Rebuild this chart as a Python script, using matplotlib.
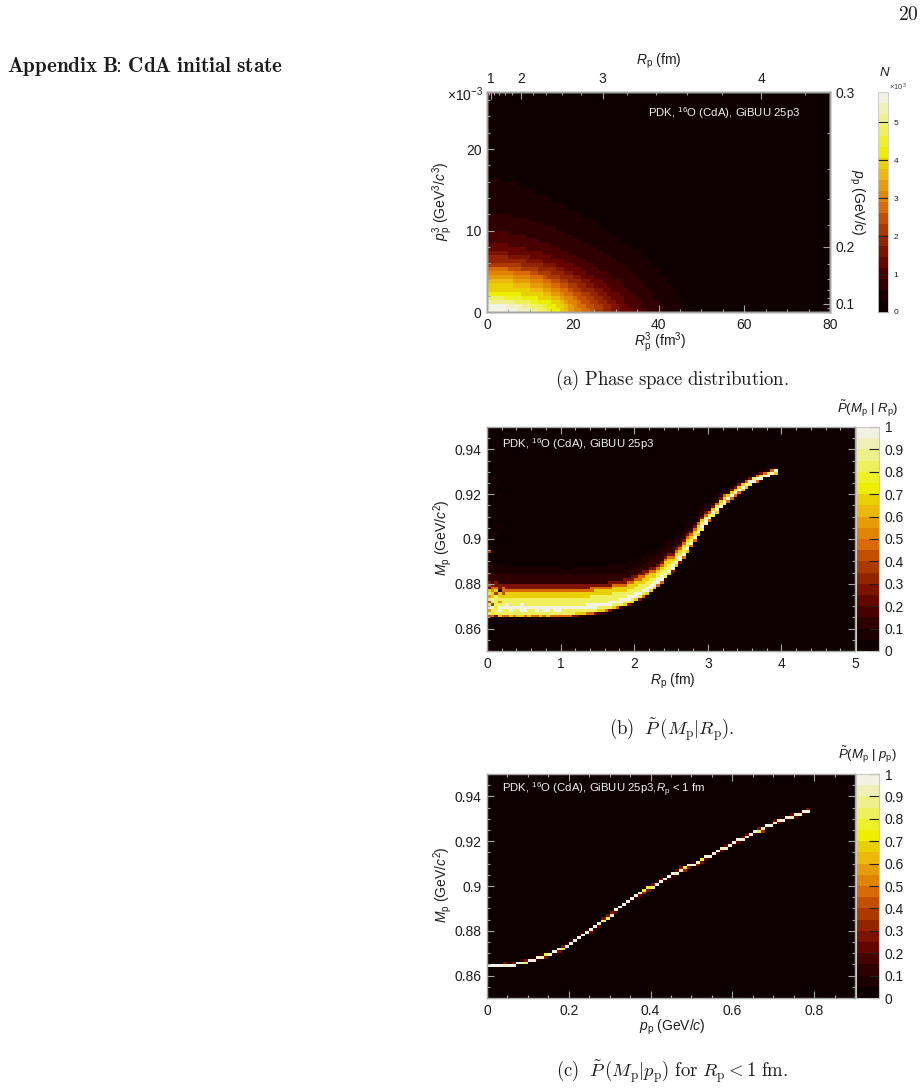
import numpy as np
import matplotlib
matplotlib.use("Agg")
import matplotlib.pyplot as plt
from matplotlib.colors import ListedColormap, BoundaryNorm

plt.rcParams.update({
    "font.family": "Liberation Sans",
    "mathtext.fontset": "custom",
    "mathtext.rm": "Liberation Sans",
    "mathtext.it": "Liberation Sans:italic",
    "mathtext.bf": "Liberation Sans:bold",
    "text.color": "#1c1c1c",
    "xtick.labelcolor": "#1c1c1c",
    "ytick.labelcolor": "#1c1c1c",
})

W, H = 924, 1089

PALETTE = ["#0f0000", "#1c0000", "#2f0000", "#480000", "#640500", "#7c1200",
           "#942400", "#ac3a00", "#c24e02", "#d86a08", "#e08404", "#e69c08",
           "#ecb80c", "#e8d004", "#eeee00", "#eef028", "#eef05c", "#eef08c",
           "#f0f0b8", "#f2f2e4"]

# (a) phase space: for each colour band, the R^3 reach of the band in every p^3 row
N_BAND_WIDTH = 0.29
N_BAND_EXTENTS = [
    [47, 46, 46, 45, 44, 44, 43, 42, 42, 40, 40, 38, 38, 36, 36, 34, 33, 31, 31, 29, 27, 26, 25, 22, 21, 19, 18, 15, 14, 11, 9, 7, 3],
    [41, 41, 40, 39, 39, 38, 37, 36, 35, 34, 33, 32, 30, 29, 27, 26, 24, 22, 20, 18, 16, 13, 10, 6],
    [37, 36, 36, 35, 34, 33, 32, 31, 29, 28, 26, 25, 23, 21, 19, 17, 15, 12, 9, 5],
    [34, 33, 32, 32, 31, 29, 28, 27, 25, 23, 22, 20, 18, 15, 13, 9, 5],
    [31, 31, 30, 29, 28, 27, 25, 24, 22, 20, 18, 16, 13, 10, 5],
    [29, 29, 28, 27, 26, 25, 23, 22, 20, 18, 16, 13, 9, 5],
    [27, 27, 26, 25, 24, 22, 21, 19, 17, 15, 12, 8],
    [25, 25, 24, 23, 22, 20, 19, 17, 14, 12, 8],
    [24, 23, 22, 21, 20, 19, 17, 15, 13, 10, 5],
    [22, 21, 21, 20, 18, 17, 15, 13, 10, 6],
    [20, 20, 19, 18, 17, 15, 13, 10, 6],
    [19, 19, 18, 17, 15, 13, 10, 6],
    [18, 18, 17, 15, 13, 10, 6],
    [17, 16, 15, 12, 8],
    [15, 14, 12, 8],
    [14, 13, 10, 4],
    [12, 10, 6],
    [10, 8],
    [7, 5],
]
R3_EDGES = np.arange(0, 81, 1.0)
P3_EDGES = np.arange(0, 27.5, 0.5)
R_TICKS = [1, 2, 3, 4]
R_MINOR = [0.8, 1.2, 1.4, 1.6, 1.8, 2.2, 2.4, 2.6, 2.8, 3.2, 3.4, 3.6, 3.8, 4.2]
P_TICKS = [0.1, 0.2, 0.3]
P_MINOR = [0.08, 0.12, 0.14, 0.16, 0.18, 0.22, 0.24, 0.26, 0.28]

# (b) ridge mass per 0.05 fm column
R_RIDGE = [
    .8690, .8688, .8692, .8686, .8688, .8690, .8686, .8688, .8686, .8686,
    .8686, .8684, .8686, .8686, .8684, .8686, .8684, .8686, .8686, .8686,
    .8688, .8688, .8688, .8690, .8692, .8692, .8694, .8696, .8698, .8700,
    .8702, .8704, .8706, .8710, .8714, .8718, .8722, .8726, .8732, .8738,
    .8748, .8755, .8763, .8773, .8785, .8797, .8810, .8823, .8842, .8858,
    .8875, .8893, .8912, .8935, .8958, .8982, .9007, .9030, .9052, .9075,
    .9095, .9113, .9130, .9148, .9165, .9180, .9193, .9206, .9218, .9229,
    .9240, .9250, .9259, .9267, .9274, .9281, .9287, .9293, .9300,
]
# (b) probability level of each band, widest last
P_LEVELS = [0.97, 0.80, 0.65, 0.45, 0.25, 0.12, 0.05]
# (b) reach above the ridge, one row per 0.25 fm
R_UPPER = [
    [.0012, .0055, .0080, .0095, .0115, .0160, .0195],
    [.0012, .0052, .0078, .0090, .0110, .0155, .0190],
    [.0012, .0052, .0078, .0090, .0110, .0155, .0185],
    [.0012, .0050, .0076, .0090, .0110, .0155, .0185],
    [.0012, .0048, .0072, .0088, .0108, .0150, .0180],
    [.0012, .0046, .0070, .0085, .0105, .0145, .0178],
    [.0012, .0045, .0068, .0082, .0100, .0138, .0172],
    [.0012, .0042, .0065, .0078, .0095, .0130, .0165],
    [.0012, .0040, .0062, .0078, .0095, .0125, .0160],
    [.0010, .0034, .0052, .0066, .0082, .0110, .0140],
    [.0008, .0027, .0042, .0054, .0066, .0090, .0120],
    [.0007, .0020, .0031, .0040, .0050, .0068, .0092],
    [.0006, .0015, .0023, .0029, .0036, .0048, .0065],
    [.0005, .0012, .0017, .0021, .0026, .0033, .0045],
    [.0005, .0010, .0014, .0018, .0021, .0027, .0035],
    [.0005, .0009, .0012, .0015, .0018, .0023, .0030],
]
# (b) reach below the ridge, one row per 0.25 fm
R_LOWER = [
    [.0004, .0024, .0030, .0034, .0038, .0042, .0045],
    [.0004, .0024, .0030, .0034, .0038, .0042, .0045],
    [.0004, .0022, .0028, .0032, .0036, .0040, .0043],
    [.0004, .0022, .0028, .0032, .0036, .0040, .0043],
    [.0004, .0022, .0028, .0032, .0036, .0040, .0043],
    [.0005, .0020, .0026, .0030, .0034, .0038, .0042],
    [.0005, .0018, .0024, .0028, .0032, .0036, .0040],
    [.0006, .0016, .0021, .0025, .0028, .0032, .0035],
    [.0006, .0014, .0018, .0021, .0024, .0027, .0030],
    [.0006, .0012, .0016, .0019, .0021, .0024, .0026],
    [.0006, .0011, .0015, .0017, .0019, .0022, .0024],
    [.0005, .0010, .0013, .0015, .0017, .0019, .0021],
    [.0005, .0009, .0012, .0014, .0016, .0018, .0020],
    [.0005, .0008, .0011, .0013, .0015, .0017, .0018],
    [.0004, .0007, .0010, .0012, .0013, .0015, .0016],
    [.0004, .0006, .0009, .0010, .0011, .0012, .0013],
]
# (b) isolated low-statistics cells near the centre: column, mass, probability
R_SPECKLE = [
    (0, .8946, .38), (1, .8946, .12), (0, .8885, .12), (1, .8872, .10), (0, .8846, .22),
    (0, .8808, .30), (0, .8795, .42), (0, .8783, .22), (1, .8770, .50), (0, .8758, .78),
    (0, .8745, .58), (1, .8733, .98), (0, .8720, .42), (1, .8708, .38), (0, .8683, .58),
    (1, .8670, .78), (0, .8658, .42), (2, .8758, .38), (3, .8770, .12), (4, .8758, .42),
    (1, .9270, .10), (2, .9260, .08), (1, .9220, .07), (3, .9195, .06), (1, .9145, .08),
    (2, .9120, .06), (1, .9095, .07), (3, .9055, .07), (1, .9005, .09), (2, .9020, .06),
    (4, .8980, .06), (6, .8970, .06), (1, .8970, .08), (2, .8695, .78), (3, .8720, .58),
    (5, .8708, .98), (7, .8695, .98), (9, .8708, .98), (12, .8683, .85), (15, .8695, .98),
    (4, .8683, .82), (8, .8683, .82), (11, .8683, .82), (14, .8683, .85), (17, .8683, .82),
    (19, .8695, .98), (21, .8683, .85), (23, .8683, .85), (25, .8695, .98),
]

# (c) ridge mass per 0.01 GeV/c column, with the peak and neighbouring cell probabilities
P_RIDGE = [
    .8643, .8643, .8643, .8644, .8645,
    .8647, .8650, .8653, .8657, .8662,
    .8667, .8672, .8678, .8684, .8690,
    .8697, .8705, .8714, .8724, .8734,
    .8745, .8757, .8769, .8782, .8795,
    .8805, .8817, .8831, .8845, .8860,
    .8875, .8888, .8902, .8915, .8928,
    .8941, .8953, .8965, .8977, .8988,
    .8998, .9008, .9019, .9030, .9040,
    .9050, .9060, .9070, .9080, .9088,
    .9095, .9105, .9115, .9126, .9136,
    .9146, .9155, .9165, .9175, .9184,
    .9193, .9203, .9212, .9222, .9230,
    .9238, .9247, .9256, .9265, .9274,
    .9282, .9289, .9296, .9303, .9310,
    .9317, .9323, .9329, .9335,
]
P_PEAK = [
    1, 1, 1, 1, .95, 1, 1, 1, .95, .8, 1, 1, 1, .95, .75, 1, 1, .95, .75, 1,
    1, 1, 1, 1, 1, 1, 1, .95, .8, .75, .95, 1, 1, 1, 1, 1, 1, .95, .75, .75,
    .95, 1, 1, 1, 1, 1, .95, .95, .75, .95, 1, .95, .75, 1, 1, 1, 1, .95, .95, 1,
    1, 1, .95, .95, 1, 1, .75, .95, 1, 1, .95, .95, 1, 1, .95, .95, 1, 1, 1,
]
P_SIDE = [
    0, 0, 0, .03, .3, .05, .25, .05, .15, .3, .03, .05, .15, .12, .3, .03, .1, .25, .3, .12,
    .1, .05, .05, .1, .15, .2, .12, .2, .3, .3, .3, .2, .05, .05, .03, .05, .12, .2, .35, .3,
    .25, .15, .2, .15, .1, .1, .2, .3, .35, .25, .1, .3, .3, .2, .08, .05, .1, .2, .2, .12,
    .1, .2, .2, .2, .08, .1, .3, .35, .15, .12, .2, .2, .12, .1, .2, .2, .15, .15, .25,
]
M_EDGES = np.linspace(0.85, 0.95, 81)


def phase_space_grid():
    grid = np.zeros((len(P3_EDGES) - 1, len(R3_EDGES) - 1))
    for band, reach in enumerate(N_BAND_EXTENTS, start=1):
        for row, cols in enumerate(reach):
            grid[row, :cols] = (band + 0.5) * N_BAND_WIDTH
    return grid


def radius_grid():
    grid = np.zeros((len(M_EDGES) - 1, 100))
    centres = 0.5 * (M_EDGES[:-1] + M_EDGES[1:])
    for col, ridge in enumerate(R_RIDGE):
        section = col // 5
        for level, up, low in zip(reversed(P_LEVELS), reversed(R_UPPER[section]), reversed(R_LOWER[section])):
            grid[(centres >= ridge - low) & (centres <= ridge + up), col] = level
        grid[np.argmin(np.abs(centres - ridge)), col] = 0.98
    for col, mass, value in R_SPECKLE:
        grid[np.argmin(np.abs(centres - mass)), col] = value
    return grid


def momentum_grid():
    grid = np.zeros((len(M_EDGES) - 1, 90))
    centres = 0.5 * (M_EDGES[:-1] + M_EDGES[1:])
    for col, (ridge, peak, side) in enumerate(zip(P_RIDGE, P_PEAK, P_SIDE)):
        row = np.argmin(np.abs(centres - ridge))
        grid[row, col] = peak
        neighbour = row + 1 if ridge > centres[row] else row - 1
        grid[neighbour, col] = side
    return grid


def px_axes(left, top, right, bottom):
    return [left / W, 1 - bottom / H, (right - left) / W, (bottom - top) / H]


def label(x, y, text, **kw):
    kw.setdefault("ha", "center")
    kw.setdefault("va", "center")
    fig.text(x / W, 1 - y / H, text, **kw)


def style_ticks(ax, **kw):
    ax.tick_params(which="major", direction="in", length=5, width=0.8, color=FRAME,
                   labelsize=10, pad=4, **kw)
    ax.tick_params(which="minor", direction="in", length=2.5, width=0.8, color=FRAME, **kw)
    for spine in ax.spines.values():
        spine.set_color(FRAME)
        spine.set_linewidth(1.0)


FRAME = "#a6a6a6"
cmap = ListedColormap(PALETTE)
fig = plt.figure(figsize=(W / 100, H / 100), dpi=100)

# Panel (a)
ax_a = fig.add_axes(px_axes(487, 92, 830, 312))
norm_a = BoundaryNorm(np.linspace(0, 5.8, 21), 20)
mesh_a = ax_a.pcolormesh(R3_EDGES, P3_EDGES, phase_space_grid(), cmap=cmap, norm=norm_a)
ax_a.set_xlim(0, 80)
ax_a.set_ylim(0, 27)
ax_a.set_xticks([0, 20, 40, 60, 80])
ax_a.set_xticks(np.arange(0, 81, 5), minor=True)
ax_a.set_yticks([0, 10, 20])
ax_a.set_yticks(np.arange(0, 27, 2), minor=True)
style_ticks(ax_a)
ax_top = ax_a.twiny()
ax_top.set_xlim(0, 80)
ax_top.set_xticks(np.array(R_TICKS, dtype=float) ** 3)
ax_top.set_xticklabels([str(v) for v in R_TICKS])
ax_top.set_xticks(np.array(R_MINOR) ** 3, minor=True)
style_ticks(ax_top)
ax_right = ax_a.twinx()
ax_right.set_ylim(0, 27)
ax_right.set_yticks((np.array(P_TICKS) ** 3) * 1e3)
ax_right.set_yticklabels([f"{v:.1f}" for v in P_TICKS])
ax_right.set_yticks((np.array(P_MINOR) ** 3) * 1e3, minor=True)
style_ticks(ax_right)

cax_a = fig.add_axes(px_axes(878, 92, 888, 312))
cbar_a = fig.colorbar(mesh_a, cax=cax_a, ticks=[0, 1, 2, 3, 4, 5])
cbar_a.minorticks_off()
cax_a.tick_params(direction="in", length=7, width=0.8, color="#202020", labelsize=6, pad=4)
cbar_a.outline.set_edgecolor("#c8c8c8")
cbar_a.outline.set_linewidth(0.6)

label(659, 61, r"$R_{\mathrm{p}}$ (fm)", fontsize=10)
label(660, 343, r"$R_{\mathrm{p}}^{3}$ (fm$^{3}$)", fontsize=10)
label(443, 201, r"$p_{\mathrm{p}}^{3}$ (GeV$^{3}$/$c^{3}$)", fontsize=10, rotation=90)
label(857, 202, r"$p_{\mathrm{p}}$ (GeV/c)", fontsize=10, rotation=270)
label(465, 95, r"$\times$10$^{-3}$", fontsize=10)
label(885, 72, r"$N$", fontsize=9.5)
label(898, 87, r"$\times$10$^{3}$", fontsize=5.5, color="#444444")
label(648, 113, r"PDK, $^{16}$O (CdA), GiBUU 25p3", ha="left", color="#f0f0f0", fontsize=8.2)

# Panel (b)
ax_b = fig.add_axes(px_axes(487, 427, 855, 651))
norm_prob = BoundaryNorm(np.linspace(0, 1, 21), 20)
mesh_b = ax_b.pcolormesh(np.linspace(0, 5, 101), M_EDGES, radius_grid(), cmap=cmap, norm=norm_prob)
ax_b.set_xlim(0, 5)
ax_b.set_ylim(0.85, 0.95)
ax_b.set_xticks([0, 1, 2, 3, 4, 5])
ax_b.set_xticklabels(["0", "1", "2", "3", "4", "5"])
ax_b.set_xticks(np.arange(0, 5.01, 0.2), minor=True)
ax_b.set_yticks([0.86, 0.88, 0.90, 0.92, 0.94])
ax_b.set_yticklabels(["0.86", "0.88", "0.9", "0.92", "0.94"])
ax_b.set_yticks(np.arange(0.85, 0.951, 0.005), minor=True)
style_ticks(ax_b, top=True, right=True)

cax_b = fig.add_axes(px_axes(855.5, 427, 879, 651))
cbar_b = fig.colorbar(mesh_b, cax=cax_b, ticks=np.arange(0, 1.01, 0.1))
cbar_b.minorticks_off()
cbar_b.set_ticklabels(["0", "0.1", "0.2", "0.3", "0.4", "0.5", "0.6", "0.7", "0.8", "0.9", "1"])
cax_b.tick_params(direction="in", length=7.5, width=0.8, color="#202020", labelsize=10, pad=4)
cbar_b.outline.set_edgecolor("#c8c8c8")

label(673, 681, r"$R_{\mathrm{p}}$ (fm)", fontsize=10)
label(443, 538, r"$M_{\mathrm{p}}$ (GeV/$c^{2}$)", fontsize=10, rotation=90)
label(868, 409, r"$\tilde{P}(M_{\mathrm{p}}\ |\ R_{\mathrm{p}})$", fontsize=9.5)
label(502, 444, r"PDK, $^{16}$O (CdA), GiBUU 25p3", ha="left", color="#f0f0f0", fontsize=8.2)

# Panel (c)
ax_c = fig.add_axes(px_axes(487, 774, 855, 998))
mesh_c = ax_c.pcolormesh(np.linspace(0, 0.9, 91), M_EDGES, momentum_grid(), cmap=cmap, norm=norm_prob)
ax_c.set_xlim(0, 0.9)
ax_c.set_ylim(0.85, 0.95)
ax_c.set_xticks([0, 0.2, 0.4, 0.6, 0.8])
ax_c.set_xticklabels(["0", "0.2", "0.4", "0.6", "0.8"])
ax_c.set_xticks(np.arange(0, 0.901, 0.05), minor=True)
ax_c.set_yticks([0.86, 0.88, 0.90, 0.92, 0.94])
ax_c.set_yticklabels(["0.86", "0.88", "0.9", "0.92", "0.94"])
ax_c.set_yticks(np.arange(0.85, 0.951, 0.005), minor=True)
style_ticks(ax_c, top=True, right=True)

cax_c = fig.add_axes(px_axes(855.5, 774, 879, 998))
cbar_c = fig.colorbar(mesh_c, cax=cax_c, ticks=np.arange(0, 1.01, 0.1))
cbar_c.minorticks_off()
cbar_c.set_ticklabels(["0", "0.1", "0.2", "0.3", "0.4", "0.5", "0.6", "0.7", "0.8", "0.9", "1"])
cax_c.tick_params(direction="in", length=7.5, width=0.8, color="#202020", labelsize=10, pad=4)
cbar_c.outline.set_edgecolor("#c8c8c8")

label(672, 1027, r"$p_{\mathrm{p}}$ (GeV/$c$)", fontsize=10)
label(443, 885, r"$M_{\mathrm{p}}$ (GeV/$c^{2}$)", fontsize=10, rotation=90)
label(868, 755, r"$\tilde{P}(M_{\mathrm{p}}\ |\ p_{\mathrm{p}})$", fontsize=9.5)
label(502, 790, r"PDK, $^{16}$O (CdA), GiBUU 25p3,$R_{\mathrm{p}}$ < 1 fm", ha="left", color="#f0f0f0", fontsize=8.2)

# Page text set in Computer Modern
label(908, 20, r"$\mathrm{20}$", fontsize=14, va="baseline", math_fontfamily="cm")
label(7, 72, r"$\mathbf{Appendix\ B}\!\!\mathbf{:}\!\ \mathbf{CdA\ initial\ state}$", ha="left", va="baseline", fontsize=15.2, math_fontfamily="cm")
label(672, 385, r"$\mathrm{(a)\ Phase\ space\ distribution.}$", va="baseline", fontsize=13.5, math_fontfamily="cm")
label(672, 735, r"$\mathrm{(b)}\ \ \tilde{P}\,(M_{\mathrm{p}}|R_{\mathrm{p}}).$", va="baseline", fontsize=13.5, math_fontfamily="cm")
label(672, 1077, r"$\mathrm{(c)}\ \ \tilde{P}\,(M_{\mathrm{p}}|p_{\mathrm{p}})\ \mathrm{for}\ R_{\mathrm{p}}<1\ \mathrm{fm.}$",
      va="baseline", fontsize=13.5, math_fontfamily="cm")

fig.savefig("out.png", dpi=100)
